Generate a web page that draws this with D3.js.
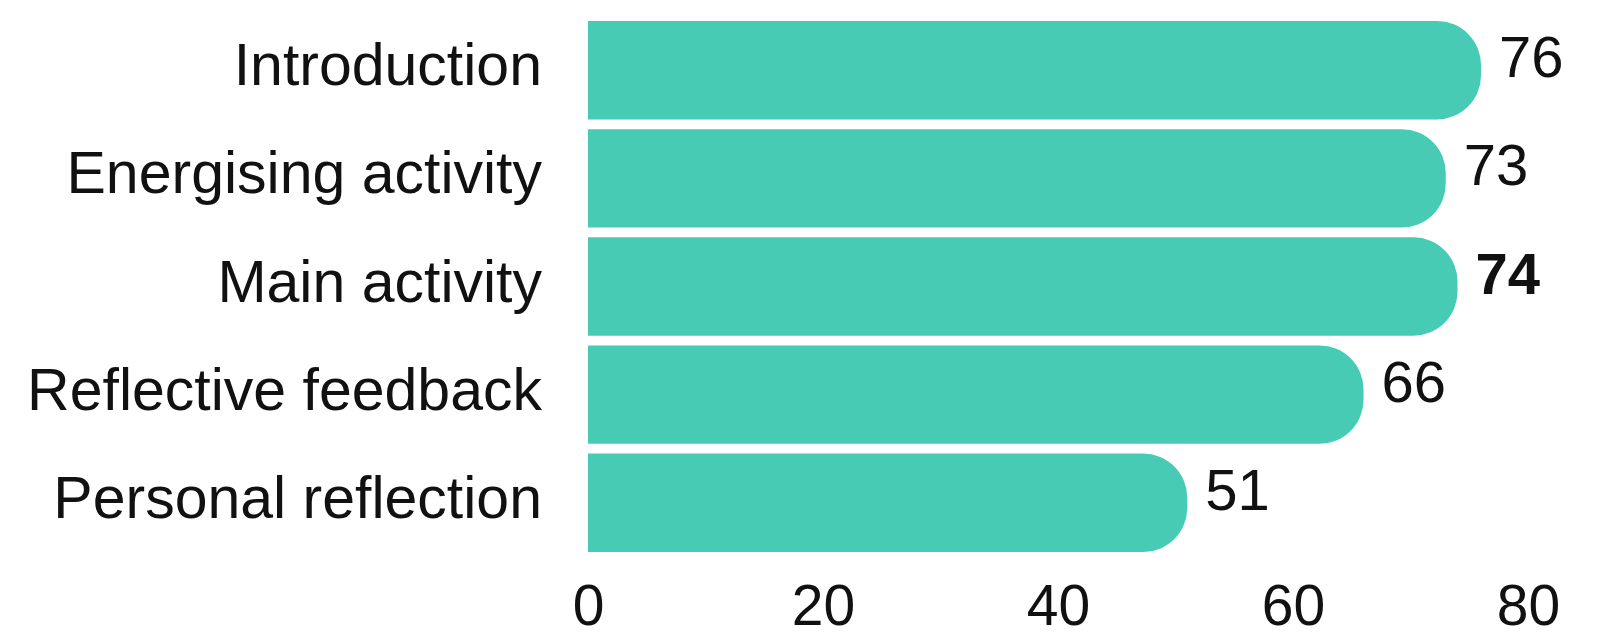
<!DOCTYPE html>
<html>
<head>
<meta charset="utf-8">
<script src="https://cdn.jsdelivr.net/npm/d3@7"></script>
<style>
  html, body { margin: 0; padding: 0; background: #fff; }
  svg text { font-family: "Liberation Sans", Arial, sans-serif; fill: #111; }
</style>
</head>
<body>
<div id="chart"></div>
<script>
const categories = ["Introduction", "Energising activity", "Main activity", "Reflective feedback", "Personal reflection"];
const values = [76, 73, 74, 66, 51];
const boldLabels = [false, false, true, false, false];
const tickValues = [0, 20, 40, 60, 80];

const width = 1602, height = 637;
const barColor = "#48cbb4";

const svg = d3.select("#chart")
    .append("svg")
    .attr("width", width)
    .attr("height", height);

const x = d3.scaleLinear()
    .domain([0, 80])
    .range([588, 1528]);

const y = d3.scaleBand()
    .domain(categories)
    .range([21, 552])
    .paddingInner(0.09)
    .paddingOuter(0);

const data = categories.map((c, i) => ({ cat: c, value: values[i], bold: boldLabels[i] }));

// bar with rounded right end
const barPath = (d) => {
    const x0 = x(0), x1 = x(d.value);
    const y0 = y(d.cat), h = y.bandwidth();
    const r = Math.min(44, h / 2);
    return `M${x0},${y0}H${x1 - r}A${r},${r} 0 0 1 ${x1},${y0 + r}` +
        `V${y0 + h - r}A${r},${r} 0 0 1 ${x1 - r},${y0 + h}H${x0}Z`;
};

svg.selectAll(".bar")
    .data(data)
    .enter()
    .append("path")
    .attr("class", "bar")
    .attr("d", barPath)
    .attr("fill", barColor);

// category labels
svg.selectAll(".cat-label")
    .data(data)
    .enter()
    .append("text")
    .attr("class", "cat-label")
    .attr("x", 542)
    .attr("y", (d) => y(d.cat) + y.bandwidth() / 2 + 15)
    .attr("text-anchor", "end")
    .style("font-size", "59px")
    .text((d) => d.cat);

// value labels
svg.selectAll(".val-label")
    .data(data)
    .enter()
    .append("text")
    .attr("class", "val-label")
    .attr("x", (d) => x(d.value) + 18)
    .attr("y", (d) => y(d.cat) + y.bandwidth() / 2 + 7)
    .style("font-size", "58px")
    .style("font-weight", (d) => (d.bold ? "bold" : "normal"))
    .text((d) => d.value);

// x axis
const xAxis = svg.append("g")
    .attr("transform", "translate(0,625)")
    .call(d3.axisBottom(x).tickValues(tickValues).tickSize(0).tickPadding(0));

xAxis.select(".domain").remove();
xAxis.selectAll("text")
    .attr("y", 0)
    .attr("dy", null)
    .style("font-size", "57px")
    .style("font-family", '"Liberation Sans", Arial, sans-serif')
    .attr("fill", "#111");
</script>
</body>
</html>
